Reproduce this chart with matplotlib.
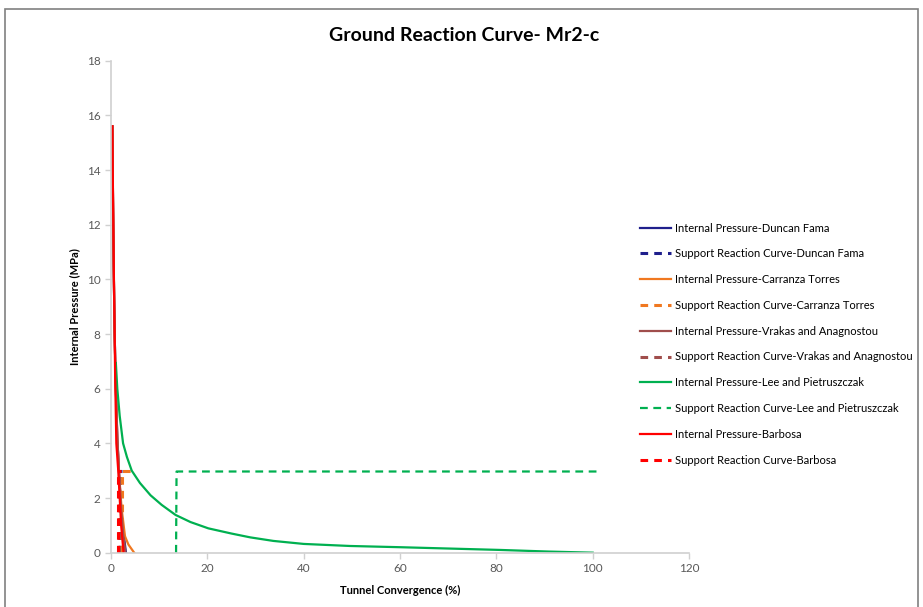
import matplotlib.pyplot as plt
from matplotlib.patches import Rectangle

plt.rcParams['font.family'] = ['Lato', 'DejaVu Sans']

# Internal pressure curves (x: convergence %, y: pressure MPa)
df_x = [0.28, 0.4, 0.55, 0.75, 1.0, 1.3, 1.7, 2.1, 2.6, 3.1]
df_y = [15.6, 13.0, 10.5, 8.0, 6.0, 4.2, 2.8, 1.6, 0.7, 0.0]

ct_x = [0.28, 0.4, 0.55, 0.75, 1.0, 1.3, 1.7, 2.2, 2.9, 3.6, 4.8]
ct_y = [15.6, 13.0, 10.5, 8.0, 6.0, 4.2, 2.8, 1.6, 0.6, 0.3, 0.0]

va_x = [0.28, 0.4, 0.55, 0.75, 1.0, 1.3, 1.7, 2.1, 2.5, 3.0]
va_y = [15.6, 13.0, 10.5, 8.0, 6.0, 4.2, 2.8, 1.6, 0.7, 0.0]

lp_x = [1.0, 1.3, 1.8, 2.5, 3.3, 4.3, 6.0, 8.2, 10.5, 13.4, 16.5, 20.2,
        25.0, 28.9, 33.7, 40.0, 49.6, 60.0, 70.4, 80.8, 91.0, 100.0]
lp_y = [6.94, 6.0, 5.0, 4.0, 3.5, 3.0, 2.55, 2.1, 1.75, 1.38, 1.12, 0.89,
        0.7, 0.56, 0.43, 0.32, 0.245, 0.2, 0.15, 0.1, 0.04, 0.0]

ba_x = [0.28, 0.35, 0.48, 0.6, 0.75, 0.85, 1.0, 1.1, 1.5, 1.8, 2.1, 2.6]
ba_y = [15.6, 14.0, 12.0, 10.0, 8.0, 6.5, 5.0, 4.0, 3.0, 2.0, 1.0, 0.0]

# Support reaction curves
df_s_x = [1.8, 1.8, 2.2]
df_s_y = [0.0, 2.97, 2.97]
ct_s_x = [2.2, 2.2, 5.0]
ct_s_y = [0.0, 2.97, 2.97]
va_s_x = [1.7, 1.7, 2.1]
va_s_y = [0.0, 2.97, 2.97]
lp_s_x = [13.5, 13.6, 100.8]
lp_s_y = [0.0, 2.97, 2.97]
ba_s_x = [1.5, 1.5, 2.0]
ba_s_y = [0.0, 2.97, 2.97]

navy = '#1F1F8C'
orange = '#F07820'
brown = '#A04E4C'
green = '#00B050'
red = '#FF0000'

fig = plt.figure(figsize=(9.23, 6.07), dpi=100)
ax = fig.add_axes([0.1203, 0.0895, 0.6262, 0.8105])

lw = 1.6
ax.plot(df_x, df_y, color=navy, lw=lw, label='Internal Pressure-Duncan Fama')
ax.plot(df_s_x, df_s_y, color=navy, lw=2.2, ls=(0, (2.5, 2)), label='Support Reaction Curve-Duncan Fama')
ax.plot(ct_x, ct_y, color=orange, lw=lw, label='Internal Pressure-Carranza Torres')
ax.plot(ct_s_x, ct_s_y, color=orange, lw=2.2, ls=(0, (2.5, 2)), label='Support Reaction Curve-Carranza Torres')
ax.plot(va_x, va_y, color=brown, lw=lw, label='Internal Pressure-Vrakas and Anagnostou')
ax.plot(va_s_x, va_s_y, color=brown, lw=2.2, ls=(0, (2.5, 2)), label='Support Reaction Curve-Vrakas and Anagnostou')
ax.plot(lp_x, lp_y, color=green, lw=lw, label='Internal Pressure-Lee and Pietruszczak')
ax.plot(lp_s_x, lp_s_y, color=green, lw=lw, ls=(0, (3.5, 2.5)), label='Support Reaction Curve-Lee and Pietruszczak')
ax.plot(ba_x, ba_y, color=red, lw=lw, label='Internal Pressure-Barbosa')
ax.plot(ba_s_x, ba_s_y, color=red, lw=2.2, ls=(0, (2.5, 2)), label='Support Reaction Curve-Barbosa')

ax.set_xlim(0, 120)
ax.set_ylim(0, 18)
ax.set_xticks(range(0, 121, 20))
ax.set_yticks(range(0, 19, 2))

for s in ['top', 'right']:
    ax.spines[s].set_visible(False)
for s in ['left', 'bottom']:
    ax.spines[s].set_color('#D0D0D0')
    ax.spines[s].set_linewidth(1.2)
ax.tick_params(colors='#D0D0D0', labelcolor='#595959', labelsize=8.5, length=4, width=1)

ax.set_xlabel('Tunnel Convergence (%)', fontsize=8, fontweight='bold', labelpad=8)
ax.set_ylabel('Internal Pressure (MPa)', fontsize=8, fontweight='bold', labelpad=5)
fig.text(0.5025, 0.942, 'Ground Reaction Curve- Mr2-c', ha='center', va='center',
         fontsize=14, fontweight='bold')

leg = ax.legend(loc='upper left', bbox_to_anchor=(0.908, 0.68), frameon=False,
                fontsize=8, handlelength=2.8, handletextpad=0.35,
                labelspacing=1.33, borderaxespad=0)

fig.patches.append(Rectangle((5 / 923, -0.01), 913 / 923, 1 - 9 / 607 + 0.01,
                             transform=fig.transFigure, fill=False,
                             edgecolor='#808080', lw=1.2))

fig.savefig('out.png', dpi=100)
